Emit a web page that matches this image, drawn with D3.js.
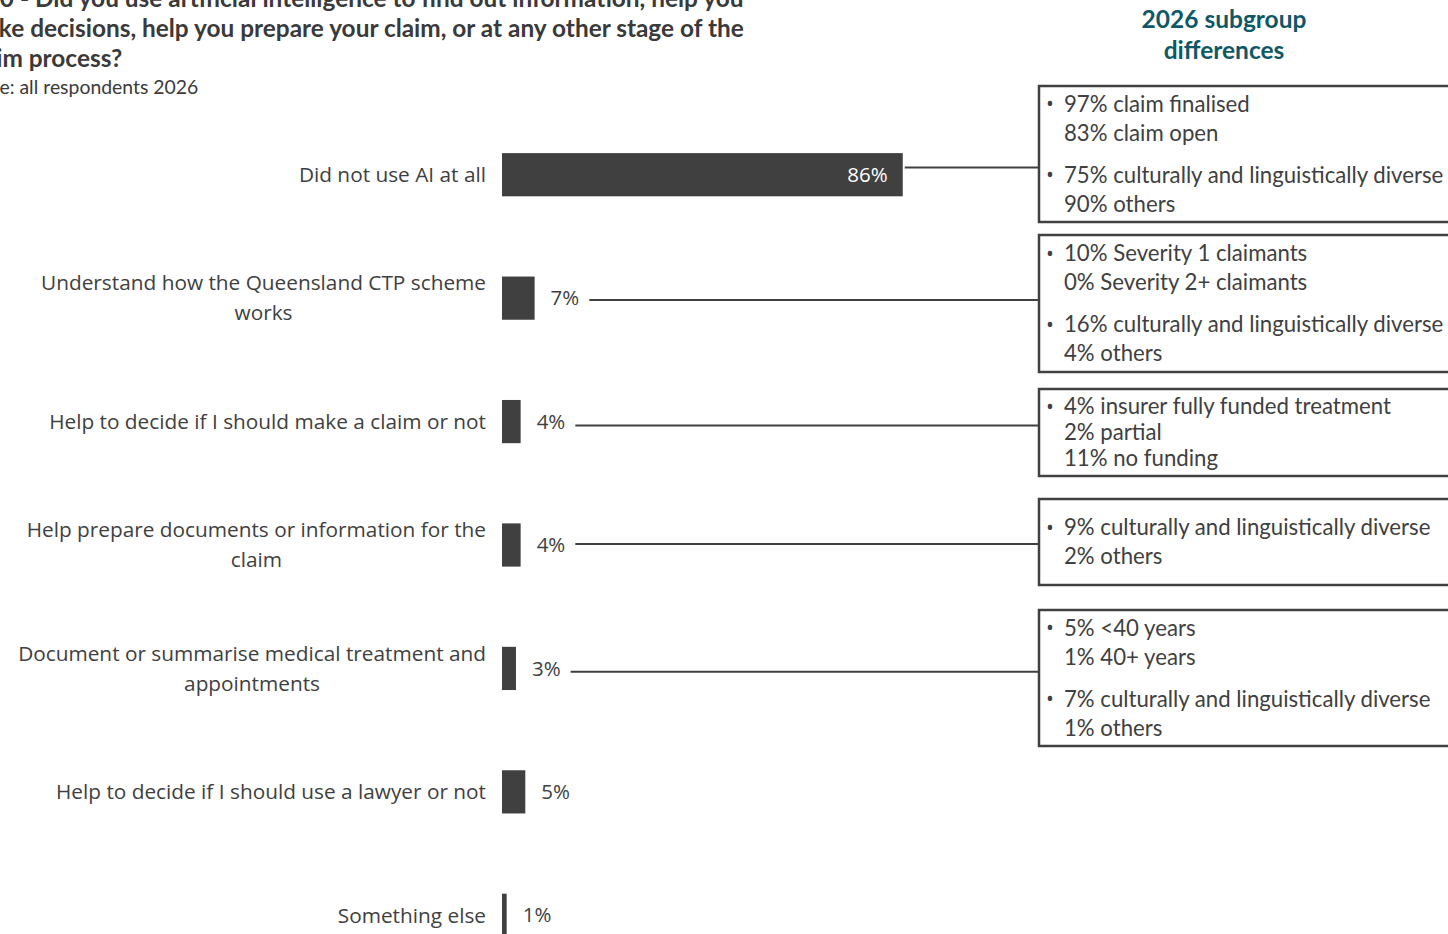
<!DOCTYPE html>
<html>
<head>
<meta charset="utf-8">
<script src="https://cdn.jsdelivr.net/npm/d3@7"></script>
<style>
  html, body { margin: 0; padding: 0; background: #fff; overflow: hidden; }
  svg { display: block; }
</style>
</head>
<body>
<svg id="chart" width="1448" height="934"></svg>
<script>
// Survey question and base
const titleLines = [
  "Q10 - Did you use artificial intelligence to find out information, help you",
  "make decisions, help you prepare your claim, or at any other stage of the",
  "claim process?"
];
const baseText = "Base: all respondents 2026";

// Response categories (line breaks mark wrapped labels)
const categories = [
  "Did not use AI at all",
  "Understand how the Queensland CTP scheme\nworks",
  "Help to decide if I should make a claim or not",
  "Help prepare documents or information for the\nclaim",
  "Document or summarise medical treatment and\nappointments",
  "Help to decide if I should use a lawyer or not",
  "Something else"
];

// Share of respondents (%)
const values = [86, 7, 4, 4, 3, 5, 1];

// Subgroup call-outs: which category they refer to and their bullet points
const noteHeading = ["2026 subgroup", "differences"];
const noteRows = [0, 1, 2, 3, 4];
const noteBullets = [
  [["97% claim finalised", "83% claim open"], ["75% culturally and linguistically diverse", "90% others"]],
  [["10% Severity 1 claimants", "0% Severity 2+ claimants"], ["16% culturally and linguistically diverse", "4% others"]],
  [["4% insurer fully funded treatment", "2% partial", "11% no funding"]],
  [["9% culturally and linguistically diverse", "2% others"]],
  [["5% <40 years", "1% 40+ years"], ["7% culturally and linguistically diverse", "1% others"]]
];

// ---- layout ----
const svg = d3.select("#chart");
const dark = "#404040";
const teal = "#0f5866";
const sans = "'Open Sans', 'Noto Sans', sans-serif";
const narrow = "Lato, 'Open Sans', sans-serif";

const x = d3.scaleLinear().domain([0, 100]).range([502, 968]);
const y = d3.scaleBand()
  .domain(d3.range(categories.length))
  .range([113, 977])
  .paddingInner(0.65)
  .paddingOuter(0.325);

// Title block (runs off the left edge of the page)
const title = svg.append("g").attr("font-family", narrow).attr("fill", "#3a3a3a");
title.selectAll("text.t").data(titleLines).join("text")
  .attr("class", "t")
  .attr("x", -34)
  .attr("y", (d, i) => -2 + i * 30)
  .attr("dy", "0.35em")
  .attr("font-size", 24.4)
  .attr("font-weight", 700)
  .text(d => d);
title.append("text")
  .attr("x", -31)
  .attr("y", 87)
  .attr("dy", "0.35em")
  .attr("font-size", 19.4)
  .text(baseText);

// Category labels
const labels = svg.append("g")
  .attr("font-family", sans)
  .attr("font-size", 20.8)
  .attr("fill", dark)
  .attr("text-anchor", "middle");

categories.forEach((c, i) => {
  const lines = c.split("\n");
  const cy = y(i) + y.bandwidth() / 2;
  const t = labels.append("text");
  lines.forEach((ln, j) => {
    t.append("tspan")
      .attr("x", 0)
      .attr("y", cy + (j - (lines.length - 1) / 2) * 30)
      .attr("dy", "0.35em")
      .text(ln);
  });
  // right-align the whole block against the bars, lines centred within it
  const w = t.node().getBBox().width;
  t.attr("transform", `translate(${486 - w / 2},0)`);
});

// Bars
svg.append("g").selectAll("rect").data(values).join("rect")
  .attr("x", x(0))
  .attr("y", (d, i) => y(i))
  .attr("width", d => x(d) - x(0))
  .attr("height", y.bandwidth())
  .attr("fill", dark);

// Value labels: inside for the long bar, outside for the rest
const valueEnds = [];
const vals = svg.append("g").attr("font-family", sans).attr("font-size", 20.5);
values.forEach((v, i) => {
  const inside = x(v) - x(0) > 80;
  const t = vals.append("text")
    .attr("x", inside ? x(v) - 15 : x(v) + 16)
    .attr("y", y(i) + y.bandwidth() / 2)
    .attr("dy", "0.35em")
    .attr("text-anchor", inside ? "end" : "start")
    .attr("fill", inside ? "#fff" : dark)
    .text(v + "%");
  valueEnds.push(inside ? x(v) : x(v) + 16 + t.node().getComputedTextLength());
});

// Heading for the call-outs
svg.append("g").selectAll("text").data(noteHeading).join("text")
  .attr("x", 1224)
  .attr("y", (d, i) => 19 + i * 31)
  .attr("dy", "0.35em")
  .attr("text-anchor", "middle")
  .attr("font-family", narrow)
  .attr("font-size", 24.5)
  .attr("font-weight", 700)
  .attr("fill", teal)
  .text(d => d);

// Call-out boxes
const boxLeft = 1039;
const boxTop = [86, 235, 389, 499, 610];
const boxHeight = [136, 137, 87, 86, 136];
const bulletGap = 13;

noteBullets.forEach((bullets, b) => {
  const g = svg.append("g");
  const top = boxTop[b], h = boxHeight[b];
  g.append("rect")
    .attr("x", boxLeft)
    .attr("y", top)
    .attr("width", 460)
    .attr("height", h)
    .attr("fill", "#fff")
    .attr("stroke", dark)
    .attr("stroke-width", 2.5);

  const nLines = d3.sum(bullets, d => d.length);
  const lineH = nLines > 2 && bullets.length === 1 ? 26 : 29;
  const span = (nLines - 1) * lineH + (bullets.length - 1) * bulletGap;
  let cy = top + h / 2 - span / 2;
  bullets.forEach(lines => {
    g.append("text")
      .attr("x", 1050)
      .attr("y", cy)
      .attr("dy", "0.35em")
      .attr("text-anchor", "middle")
      .attr("font-family", sans)
      .attr("font-size", 21)
      .attr("fill", dark)
      .text("•");
    lines.forEach(ln => {
      g.append("text")
        .attr("x", 1064)
        .attr("y", cy)
        .attr("dy", "0.35em")
        .attr("font-family", narrow)
        .attr("font-size", 22.2)
        .attr("fill", dark)
        .text(ln);
      cy += lineH;
    });
    cy += bulletGap;
  });

  // Connector from the category's value to its call-out box,
  // drawn a little towards the box's middle from the bar's centre line
  const r = noteRows[b];
  const barMid = y(r) + y.bandwidth() / 2;
  const ly = barMid + 0.35 * (top + h / 2 - barMid);
  svg.append("line")
    .attr("x1", valueEnds[r] + (values[r] > 20 ? 2 : 10))
    .attr("x2", boxLeft)
    .attr("y1", ly)
    .attr("y2", ly)
    .attr("stroke", dark)
    .attr("stroke-width", 2);
});
</script>
</body>
</html>
